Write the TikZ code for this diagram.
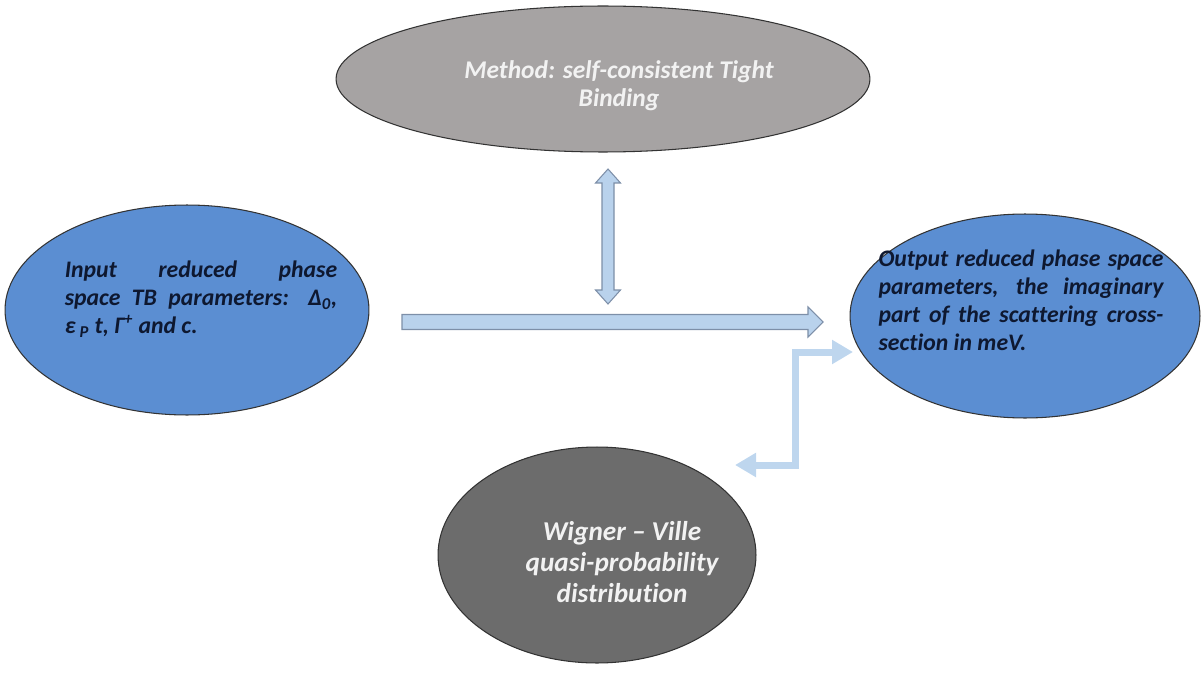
\documentclass[tikz,border=0pt]{standalone}
\usepackage{fontspec}
\setmainfont{Carlito}[Ligatures=CommonOff]
\usetikzlibrary{shapes.geometric,arrows.meta,calc}
\definecolor{bluefill}{RGB}{91,142,210}
\definecolor{topgray}{RGB}{166,163,163}
\definecolor{botgray}{RGB}{108,108,108}
\definecolor{navytext}{RGB}{14,24,48}
\definecolor{arrfill}{RGB}{185,210,236}
\definecolor{arrline}{RGB}{125,143,168}
\definecolor{elbowcol}{RGB}{190,214,238}
\definecolor{lighttext}{RGB}{242,242,242}
\tikzset{
  blob/.style={ellipse, draw=black!80, line width=0.6pt, inner sep=0pt},
  bluetext/.style={text=navytext, align=justify, inner sep=0pt,
    font=\fontsize{13.5}{16}\selectfont\bfseries\itshape},
  greytext/.style={text=lighttext, align=center, inner sep=0pt,
    font=\bfseries\itshape},
  fatarrow/.style={fill=arrfill, draw=arrline, line width=0.6pt, line join=miter},
  elbowarrow/.style={draw=elbowcol, line width=0.14cm,
    {Triangle[width=0.46cm,length=0.42cm]}-{Triangle[width=0.46cm,length=0.42cm]}}
}
\begin{document}
\begin{tikzpicture}[x=0.02cm,y=-0.02cm]
\useasboundingbox (0,0) rectangle (1202,672);
% ellipses
\node[blob, fill=topgray, minimum width=10.68cm, minimum height=2.92cm] (tb) at (603,79) {};
\node[blob, fill=bluefill, minimum width=7.28cm, minimum height=4.2cm] (in) at (187,310) {};
\node[blob, fill=bluefill, minimum width=7.0cm, minimum height=4.08cm] (out) at (1025,316) {};
\node[blob, fill=botgray, minimum width=6.36cm, minimum height=4.32cm] (wv) at (597,555) {};
% texts
\node[greytext, font=\fontsize{14.5}{16}\selectfont\bfseries\itshape] (tbt) at (619,86)
  {Method: self-consistent Tight\\Binding};
\node[bluetext, text width=5.45cm] (intxt) at (201,299)
  {Input reduced phase\linebreak space TB parameters: Δ\textsubscript{0},\linebreak ε\,\textsubscript{P} t, Γ\textsuperscript{+} and c.};
\node[bluetext, text width=5.7cm] (outtxt) at (1021,300)
  {Output reduced phase space\linebreak parameters, the imaginary\linebreak part of the scattering cross-\linebreak section in meV.};
\node[greytext, font=\fontsize{15.5}{17.6}\selectfont\bfseries\itshape] (wvt) at (622,562)
  {Wigner – Ville\\quasi-probability\\distribution};
% horizontal arrow
\coordinate (hs) at (402,322);
\coordinate (he) at (823,322);
\draw[fatarrow] ($(hs)+(0,-7.5)$) -- ($(he)+(-15,-7.5)$) -- ($(he)+(-15,-15)$) -- (he)
  -- ($(he)+(-15,15)$) -- ($(he)+(-15,7.5)$) -- ($(hs)+(0,7.5)$) -- cycle;
% vertical double arrow
\coordinate (vt) at (608,169);
\coordinate (vb) at (608,304);
\draw[fatarrow] (vt) -- ($(vt)+(12.5,14)$) -- ($(vt)+(6,14)$) -- ($(vb)+(6,-14)$)
  -- ($(vb)+(12.5,-14)$) -- (vb) -- ($(vb)+(-12.5,-14)$) -- ($(vb)+(-6,-14)$)
  -- ($(vt)+(-6,14)$) -- ($(vt)+(-12.5,14)$) -- cycle;
% elbow double arrow
\coordinate (ea) at (735,465);
\coordinate (eb) at (853,352);
\coordinate (ek) at (795,400);
\draw[elbowarrow] (ea) -- (ea -| ek) -- (eb -| ek) -- (eb);
\end{tikzpicture}
\end{document}
